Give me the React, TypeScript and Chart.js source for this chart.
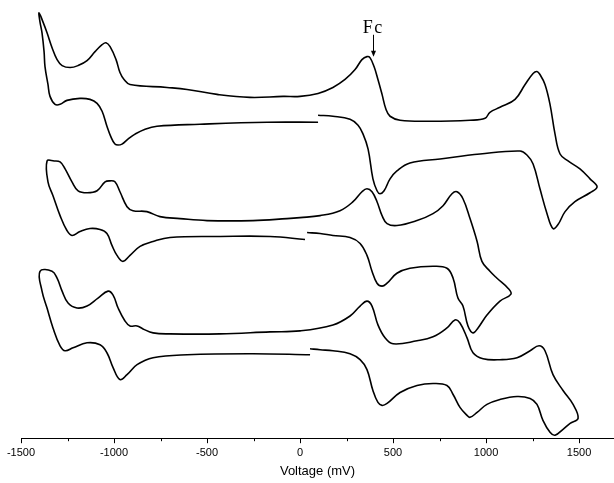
import React, { useEffect, useRef } from "react";
import { Chart, registerables } from "chart.js";

Chart.register(...registerables);

// Voltage (mV) / current (arbitrary units, curves offset vertically)
const TRACE_A_X = [97, 177, 269, 312, 339, 366, 392, 414, 430, 452, 484, 521, 591, 753, 968, 1183, 1220, 1253, 1290, 1328, 1360, 1387, 1425, 1478, 1559, 1597,
  1559, 1505, 1441, 1398, 1371, 1344, 1317, 1290, 1274, 1253, 1210, 1156, 1075, 1021, 995, 914, 699, 538, 484, 462, 441, 419, 398, 376, 360, 333, 296, 242, 177, 97, 0, -91, -269, -446, -607, -715, -914, -946, -968, -989, -1021, -1043, -1064, -1102, -1145, -1193, -1236, -1279, -1306, -1333, -1360, -1382, -1403,
  -1398, -1387, -1376, -1371, -1355, -1344, -1317, -1290, -1253, -1183, -1129, -1091, -1064, -1038, -1016, -995, -978, -957, -925, -887, -833, -769, -538, -177, 97];
const TRACE_A_Y = [32.5, 32.4, 32.1, 31.5, 30.6, 29.1, 26.1, 24.9, 24.6, 24.9, 26.1, 26.9, 27.7, 28.1, 28.6, 28.9, 28.5, 27.6, 25.1, 22.6, 21.1, 21.5, 22.8, 23.8, 24.7, 25.3,
  26.1, 27.1, 27.9, 28.6, 30.6, 33.6, 35.6, 36.6, 36.9, 36.7, 35.6, 34.1, 33.3, 32.8, 32.2, 32.0, 31.9, 32.0, 32.4, 33.1, 34.6, 36.1, 37.4, 38.3, 38.4, 38.1, 37.1, 36.1, 35.3, 34.7, 34.4, 34.4, 34.3, 34.6, 35.1, 35.3, 35.6, 36.1, 36.8, 38.1, 39.4, 39.8, 39.6, 38.9, 38.0, 37.5, 37.3, 37.5, 38.1, 39.3, 40.8, 41.9, 42.8,
  41.9, 40.8, 38.9, 37.4, 35.6, 34.4, 33.6, 33.6, 34.0, 34.2, 34.1, 33.7, 32.9, 31.4, 30.3, 29.6, 29.5, 29.6, 30.1, 30.6, 31.1, 31.4, 31.6, 31.8, 31.8];

const TRACE_B_X = [38, 108, 177, 269, 323, 360, 387, 414, 441, 468, 521, 591, 715, 790, 823, 849, 876, 903, 930, 957, 1005, 1075, 1134,
  1118, 1059, 1021, 978, 952, 914, 876, 844, 817, 769, 715, 629, 521, 468, 441, 414, 387, 360, 333, 285, 215, 108, 0, -70, -253, -500, -645, -753, -823, -898, -930, -968, -995, -1021, -1048, -1091, -1145, -1193, -1226, -1263, -1290, -1322, -1360,
  -1355, -1328, -1290, -1253, -1226, -1183, -1129, -1075, -1038, -1011, -984, -952, -914, -860, -790, -699, -430, -161, 27];
const TRACE_B_Y = [20.7, 20.6, 20.4, 20.2, 19.6, 18.4, 16.8, 15.6, 15.3, 15.6, 16.6, 17.1, 17.3, 17.1, 16.1, 14.1, 13.3, 11.3, 10.6, 11.1, 12.4, 13.8, 14.5,
  15.1, 16.1, 16.8, 17.8, 19.8, 22.1, 24.1, 24.8, 24.6, 23.4, 22.6, 21.9, 21.4, 21.6, 22.4, 23.8, 24.8, 25.1, 24.8, 23.8, 22.9, 22.4, 22.2, 22.1, 21.9, 21.9, 22.1, 22.3, 22.8, 22.9, 23.3, 24.8, 25.8, 25.9, 25.8, 24.9, 24.7, 24.9, 25.8, 27.1, 27.8, 27.9, 27.9,
  25.8, 24.4, 22.4, 20.9, 20.4, 20.8, 21.1, 21.0, 20.6, 19.4, 18.4, 17.8, 18.4, 19.3, 19.8, 20.2, 20.3, 20.3, 20.0];

const TRACE_C_X = [54, 108, 177, 269, 323, 360, 392, 419, 441, 468, 538, 629, 715, 790, 823, 860, 898, 914, 952, 1005, 1075, 1167, 1237, 1274, 1306, 1344, 1371, 1414, 1452, 1495,
  1468, 1414, 1360, 1317, 1285, 1237, 1167, 1075, 984, 930, 898, 860, 833, 790, 715, 629, 500, 457, 419, 387, 360, 323, 269, 177, 0, -161, -430, -699, -790, -844, -876, -914, -941, -978, -1005, -1032, -1086, -1145, -1199, -1247, -1279, -1306, -1333, -1398,
  -1387, -1360, -1328, -1290, -1263, -1220, -1145, -1075, -1038, -1005, -968, -930, -876, -790, -607, -253, 54];
const TRACE_C_Y = [9.0, 8.9, 8.8, 8.5, 7.9, 6.9, 4.8, 3.6, 3.3, 3.5, 4.6, 5.3, 5.5, 5.3, 4.4, 3.1, 2.3, 2.1, 2.6, 3.4, 3.9, 4.2, 4.0, 3.4, 1.8, 0.6, 0.3, 0.9, 1.5, 2.0,
  3.4, 4.8, 6.4, 8.8, 9.3, 8.8, 8.1, 7.9, 8.0, 8.6, 10.1, 11.6, 11.9, 11.1, 10.2, 9.8, 9.5, 10.1, 11.4, 13.3, 13.8, 13.3, 12.3, 11.4, 10.8, 10.7, 10.5, 10.5, 10.6, 11.0, 11.3, 11.3, 11.8, 13.1, 14.4, 14.8, 14.1, 13.3, 13.1, 13.6, 14.8, 16.1, 16.8, 16.8,
  14.8, 13.1, 11.1, 9.3, 8.8, 9.1, 9.6, 9.4, 8.6, 7.1, 5.9, 6.4, 7.4, 8.1, 8.4, 8.5, 8.4];

const TICK_VALUES = [-1500, -1250, -1000, -750, -500, -250, 0, 250, 500, 750, 1000, 1250, 1500];
const X_MIN = -1500;
const X_MAX = 1688;
const Y_MIN = 0;
const Y_MAX = 44.1;

const FC_LABEL = "Fc";
const FC_X = 392;
const FC_ARROW_TOP = 40.6;
const FC_ARROW_TIP = 38.4;
const FC_TEXT_Y = 40.8;

const toPoints = (xs: number[], ys: number[]) => xs.map((x, i) => ({ x, y: ys[i] }));

const extrasPlugin = {
  id: "cvExtras",
  afterDraw(chart: any) {
    const ctx = chart.ctx;
    const xs = chart.scales.x;
    const ys = chart.scales.y;
    ctx.save();
    ctx.strokeStyle = "#000";
    ctx.lineWidth = 1;
    const y0 = xs.top;
    for (const v of TICK_VALUES) {
      const px = Math.round(xs.getPixelForValue(v)) + 0.5;
      const len = v % 500 === 0 ? 5 : 3;
      ctx.beginPath();
      ctx.moveTo(px, y0);
      ctx.lineTo(px, y0 + len);
      ctx.stroke();
    }
    // Fc annotation
    const fx = Math.round(xs.getPixelForValue(FC_X)) + 0.5;
    const top = ys.getPixelForValue(FC_ARROW_TOP);
    const tip = ys.getPixelForValue(FC_ARROW_TIP);
    ctx.beginPath();
    ctx.moveTo(fx, top);
    ctx.lineTo(fx, tip - 4);
    ctx.stroke();
    ctx.fillStyle = "#000";
    ctx.beginPath();
    ctx.moveTo(fx - 2.5, tip - 6);
    ctx.lineTo(fx + 2.5, tip - 6);
    ctx.lineTo(fx, tip);
    ctx.closePath();
    ctx.fill();
    ctx.font = '18px "Liberation Serif", "DejaVu Serif", serif';
    ctx.textAlign = "center";
    ctx.textBaseline = "alphabetic";
    ctx.fillText(FC_LABEL.split("").join("\u200A"), fx - 1, ys.getPixelForValue(FC_TEXT_Y));
    ctx.restore();
  },
};

export default function App() {
  const ref = useRef<HTMLCanvasElement | null>(null);
  useEffect(() => {
    if (!ref.current) return;
    const mk = (xs: number[], ys: number[]) => ({
      data: toPoints(xs, ys),
      showLine: true,
      borderColor: "#000",
      borderWidth: 1.6,
      pointRadius: 0,
      tension: 0.4,
      fill: false,
    });
    const chart = new Chart(ref.current, {
      type: "scatter",
      data: {
        datasets: [mk(TRACE_A_X, TRACE_A_Y), mk(TRACE_B_X, TRACE_B_Y), mk(TRACE_C_X, TRACE_C_Y)],
      },
      options: {
        animation: false,
        responsive: false,
        devicePixelRatio: 1,
        layout: { padding: { left: 21, right: 0, top: 0, bottom: 0 } },
        plugins: { legend: { display: false }, tooltip: { enabled: false } },
        scales: {
          x: {
            type: "linear",
            min: X_MIN,
            max: X_MAX,
            afterBuildTicks: (scale: any) => {
              scale.ticks = TICK_VALUES.map((v) => ({ value: v }));
            },
            grid: { display: true, drawOnChartArea: false, drawTicks: true, tickLength: 5, tickColor: "rgba(0,0,0,0)" },
            border: { display: true, color: "#000", width: 1 },
            ticks: {
              autoSkip: false,
              maxRotation: 0,
              padding: 3,
              color: "#000",
              font: { family: '"Liberation Sans", Arial, sans-serif', size: 11 },
              callback: (v: any) => (Number(v) % 500 === 0 ? String(v) : ""),
            },
            title: {
              display: true,
              text: "Voltage (mV)",
              color: "#000",
              font: { family: '"Liberation Sans", Arial, sans-serif', size: 13 },
              padding: { top: 1, bottom: 4 },
            },
          },
          y: { display: false, min: Y_MIN, max: Y_MAX },
        },
      },
      plugins: [extrasPlugin],
    });
    return () => chart.destroy();
  }, []);
  return (
    <div style={{ position: "absolute", left: 0, top: 0, width: 614, height: 483, background: "#fff" }}>
      <canvas ref={ref} width={614} height={483} style={{ width: 614, height: 483 }} />
    </div>
  );
}
